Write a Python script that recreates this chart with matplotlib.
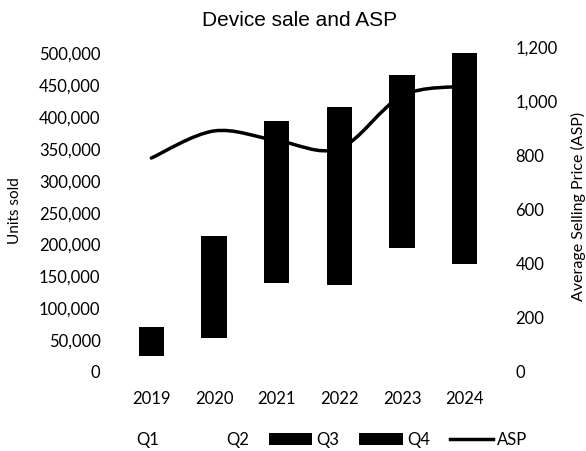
import numpy as np
import matplotlib
matplotlib.use('Agg')
import matplotlib.pyplot as plt
from matplotlib.path import Path
from matplotlib.patches import PathPatch, Patch
from matplotlib.lines import Line2D
from matplotlib.ticker import FuncFormatter

plt.rcParams['font.family'] = ['Lato', 'DejaVu Sans']

# Data
years = ['2019', '2020', '2021', '2022', '2023', '2024']
q1 = [12000, 25000, 68000, 66000, 95000, 82000]
q2 = [13000, 28000, 71000, 71000, 100000, 87000]
q3 = [20000, 43000, 89000, 123000, 130000, 160000]
q4 = [25000, 117000, 166000, 156000, 141000, 171000]
asp = [790, 890, 855, 825, 1020, 1055]

fig = plt.figure(figsize=(5.86, 4.51), dpi=100)
ax = fig.add_axes([120 / 586, (451 - 372) / 451, 376 / 586, 325 / 451])

x = np.arange(len(years))
bottom = np.zeros(len(years))
series = [(q1, 'white', 'Q1'), (q2, 'white', 'Q2'), (q3, 'black', 'Q3'), (q4, 'black', 'Q4')]
for vals, col, lab in series:
    ax.bar(x, vals, width=0.4, bottom=bottom, color=col, linewidth=0, label=lab)
    bottom += np.array(vals)

ax.set_xlim(-0.5, len(years) - 0.5)
ax.set_ylim(0, 510000)
ax.set_yticks(np.arange(0, 500001, 50000))
ax.yaxis.set_major_formatter(FuncFormatter(lambda v, p: f'{int(v):,}'))
ax.set_xticks(x)
ax.set_xticklabels(years)

# secondary axis for ASP, drawn as a smoothed line (Excel style bezier)
ax2 = ax.twinx()
ax2.set_ylim(0, 1200)
ax2.set_yticks(np.arange(0, 1201, 200))
ax2.yaxis.set_major_formatter(FuncFormatter(lambda v, p: f'{int(v):,}'))

pts = np.column_stack([x, asp]).astype(float)
verts = [pts[0]]
codes = [Path.MOVETO]
n = len(pts)
for i in range(n - 1):
    p0 = pts[max(i - 1, 0)]
    p1 = pts[i]
    p2 = pts[i + 1]
    p3 = pts[min(i + 2, n - 1)]
    c1 = p1 + (p2 - p0) / 6
    c2 = p2 - (p3 - p1) / 6
    verts += [c1, c2, p2]
    codes += [Path.CURVE4] * 3
ax2.add_patch(PathPatch(Path(verts, codes), facecolor='none', edgecolor='black',
                        linewidth=2.5, capstyle='round', joinstyle='round'))

for a in (ax, ax2):
    for s in a.spines.values():
        s.set_visible(False)
    a.tick_params(length=0, labelsize=12, colors='black')
ax.tick_params(axis='y', pad=14)
ax2.tick_params(axis='y', pad=14)
ax.tick_params(axis='x', pad=14)

fig.text(300 / 586, 1 - 20 / 451, 'Device sale and ASP', ha='center', va='center',
         fontsize=15, family='Liberation Sans')
fig.text(15 / 586, 1 - 211 / 451, 'Units sold', rotation=90, ha='center', va='center', fontsize=11)
fig.text(578 / 586, 1 - 206 / 451, 'Average Selling Price (ASP)', rotation=90,
         ha='center', va='center', fontsize=11.5)

handles = [Patch(facecolor='white', edgecolor='none'),
           Patch(facecolor='white', edgecolor='none'),
           Patch(facecolor='black', edgecolor='none'),
           Patch(facecolor='black', edgecolor='none'),
           Line2D([0], [0], color='black', linewidth=2.5)]
fig.legend(handles, ['Q1', 'Q2', 'Q3', 'Q4', 'ASP'], ncol=5, loc='center',
           bbox_to_anchor=(308 / 586, 1 - 440 / 451), frameon=False, fontsize=12,
           handlelength=2.6, handletextpad=0.25, columnspacing=1.2)

fig.savefig('out.png', dpi=100)
